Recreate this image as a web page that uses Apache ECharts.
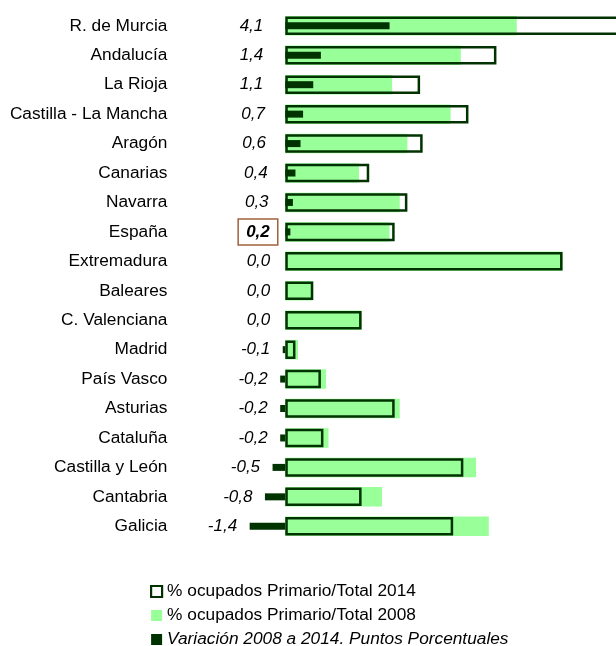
<!DOCTYPE html>
<html>
<head>
<meta charset="utf-8">
<script src="https://cdn.jsdelivr.net/npm/echarts@6/dist/echarts.min.js"></script>
<style>
  html, body { margin: 0; padding: 0; background: #ffffff; overflow: hidden; }
  /* The drawing surface is wider than the window so the longest bar runs off the right edge */
  #chart { width: 700px; height: 646px; }
</style>
</head>
<body>
<div id="chart"></div>
<script>
// Regions, top to bottom
const regions = ['R. de Murcia', 'Andalucía', 'La Rioja', 'Castilla - La Mancha', 'Aragón', 'Canarias',
  'Navarra', 'España', 'Extremadura', 'Baleares', 'C. Valenciana', 'Madrid', 'País Vasco',
  'Asturias', 'Cataluña', 'Castilla y León', 'Cantabria', 'Galicia'];

// Share of primary-sector employment over total (%)
const share2014 = [13.2, 8.3, 5.3, 7.2, 5.4, 3.3, 4.8, 4.3, 10.9, 1.1, 3.0, 0.4, 1.4, 4.3, 1.5, 7.0, 3.0, 6.6];
const share2008 = [9.1, 6.9, 4.2, 6.5, 4.8, 2.9, 4.5, 4.1, 10.9, 1.1, 3.0, 0.5, 1.6, 4.5, 1.7, 7.5, 3.8, 8.0];

// Change 2008 -> 2014 in percentage points
const variation = [4.1, 1.4, 1.1, 0.7, 0.6, 0.4, 0.3, 0.2, 0.0, 0.0, 0.0, -0.1, -0.2, -0.2, -0.2, -0.5, -0.8, -1.4];

const NAME_2014 = '% ocupados Primario/Total 2014';
const NAME_2008 = '% ocupados Primario/Total 2008';
const NAME_VAR = 'Variación 2008 a 2014. Puntos Porcentuales';
const HIGHLIGHT = 'España';

const FONT = '"Liberation Sans", Arial, sans-serif';
const FS = 17;
const FS_TEXT = 17.3;
const DARK = '#003300';
const LIGHT = '#99ff99';

const fmt = v => v.toFixed(1).replace('.', ',');
const hiIndex = regions.indexOf(HIGHLIGHT);

// Value labels sit left of the bar; gap grows a little with positive values
const labelGap = v => v < 0 ? 12.5 : (v === 0 ? 15 : Math.min(22, 14 + 9 * v));

const varData = variation.map(v => ({
  value: v,
  label: { distance: labelGap(v) }
}));
varData[hiIndex].label = { distance: 7.5 };

const catAxis = (show) => ({
  type: 'category',
  data: regions,
  inverse: true,
  gridIndex: 0,
  show: show,
  axisLine: { show: false, onZero: false },
  axisTick: { show: false },
  splitLine: { show: false },
  axisLabel: {
    show: show,
    margin: 67,
    fontSize: FS_TEXT,
    color: '#000',
    fontFamily: FONT
  }
});

const chart = echarts.init(document.getElementById('chart'), null, { renderer: 'canvas' });
chart.setOption({
  backgroundColor: '#ffffff',
  animation: false,
  grid: { left: 234.4, right: 7.7, top: 11.1, bottom: 105, outerBoundsMode: 'none', containLabel: false },
  xAxis: { type: 'value', min: -2, max: 16, show: false, splitLine: { show: false } },
  yAxis: [catAxis(true), catAxis(false), catAxis(false)],
  legend: {
    orient: 'vertical',
    left: 150,
    top: 583,
    height: 90,
    padding: 0,
    icon: 'rect',
    itemWidth: 11,
    itemHeight: 11,
    itemGap: 7,
    textStyle: { fontSize: FS_TEXT, lineHeight: 16, color: '#000', fontFamily: FONT },
    data: [
      { name: NAME_2014, itemStyle: { color: '#ffffff', borderColor: DARK, borderWidth: 2.2 } },
      { name: NAME_2008 },
      { name: NAME_VAR, textStyle: { fontStyle: 'italic' } }
    ]
  },
  series: [
    {
      name: NAME_2008,
      type: 'bar',
      yAxisIndex: 1,
      barWidth: 19.5,
      itemStyle: { color: LIGHT },
      data: share2008
    },
    {
      name: NAME_2014,
      type: 'bar',
      yAxisIndex: 0,
      barWidth: 18.5,
      itemStyle: { color: 'rgba(255,255,255,0)', borderColor: DARK, borderWidth: 2.5 },
      data: share2014
    },
    {
      name: NAME_VAR,
      type: 'bar',
      yAxisIndex: 2,
      barWidth: 7,
      itemStyle: { color: DARK },
      label: {
        show: true,
        position: 'left',
        fontStyle: 'italic',
        fontSize: FS,
        color: '#000',
        fontFamily: FONT,
        formatter: p => p.dataIndex === hiIndex ? '{box|' + fmt(p.value) + '}' : fmt(p.value),
        rich: {
          box: {
            fontStyle: 'italic',
            fontWeight: 'bold',
            fontSize: FS,
            color: '#000',
            fontFamily: FONT,
            borderColor: '#a0623a',
            borderWidth: 1.5,
            padding: [5, 8, 4, 8],
            lineHeight: 19
          }
        }
      },
      data: varData
    }
  ]
});
</script>
</body>
</html>
